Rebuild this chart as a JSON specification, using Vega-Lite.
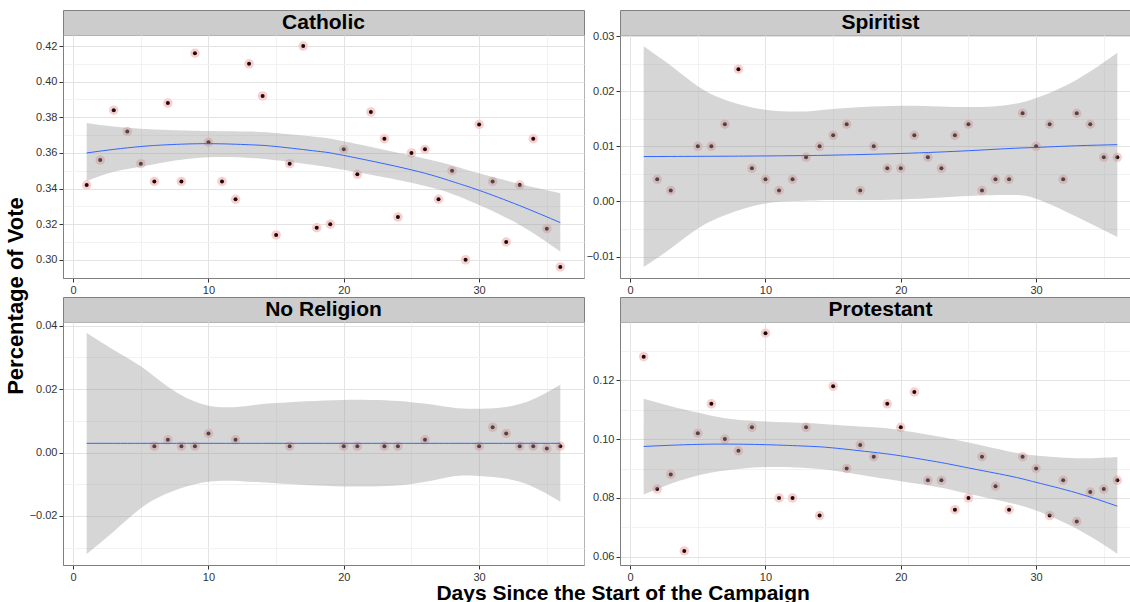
{
  "$schema": "https://vega.github.io/schema/vega-lite/v6.json",
  "padding": {"left": 4, "top": 9, "right": 0, "bottom": 0},
  "background": "white",
  "config": {
    "view": {"stroke": null},
    "font": "Liberation Sans",
    "axis": {"labelFont": "Liberation Sans", "labelFontSize": 11, "labelColor": "#333333", "tickColor": "#333333", "tickSize": 4, "tickWidth": 1, "domainColor": "#7f7f7f", "gridColor": "#e3e3e3", "gridWidth": 1, "labelPadding": 2, "title": null, "labelFlush": false, "labelOverlap": false}
  },
  "title": {"text": "Days Since the Start of the Campaign", "orient": "bottom", "anchor": "middle", "fontSize": 21, "font": "Liberation Sans", "fontWeight": "bold", "color": "black", "offset": 0, "dx": 50},
  "datasets": {
    "pts": [
      {"religion": "Catholic", "day": 1, "vote": 0.342}, {"religion": "Catholic", "day": 2, "vote": 0.356}, {"religion": "Catholic", "day": 3, "vote": 0.384}, {"religion": "Catholic", "day": 4, "vote": 0.372}, {"religion": "Catholic", "day": 5, "vote": 0.354}, {"religion": "Catholic", "day": 6, "vote": 0.344}, {"religion": "Catholic", "day": 7, "vote": 0.388}, {"religion": "Catholic", "day": 8, "vote": 0.344}, {"religion": "Catholic", "day": 9, "vote": 0.416}, {"religion": "Catholic", "day": 10, "vote": 0.366}, {"religion": "Catholic", "day": 11, "vote": 0.344}, {"religion": "Catholic", "day": 12, "vote": 0.334}, {"religion": "Catholic", "day": 13, "vote": 0.410}, {"religion": "Catholic", "day": 14, "vote": 0.392}, {"religion": "Catholic", "day": 15, "vote": 0.314}, {"religion": "Catholic", "day": 16, "vote": 0.354}, {"religion": "Catholic", "day": 17, "vote": 0.420}, {"religion": "Catholic", "day": 18, "vote": 0.318}, {"religion": "Catholic", "day": 19, "vote": 0.320}, {"religion": "Catholic", "day": 20, "vote": 0.362}, {"religion": "Catholic", "day": 21, "vote": 0.348}, {"religion": "Catholic", "day": 22, "vote": 0.383}, {"religion": "Catholic", "day": 23, "vote": 0.368}, {"religion": "Catholic", "day": 24, "vote": 0.324}, {"religion": "Catholic", "day": 25, "vote": 0.360}, {"religion": "Catholic", "day": 26, "vote": 0.362}, {"religion": "Catholic", "day": 27, "vote": 0.334}, {"religion": "Catholic", "day": 28, "vote": 0.350}, {"religion": "Catholic", "day": 29, "vote": 0.300}, {"religion": "Catholic", "day": 30, "vote": 0.376}, {"religion": "Catholic", "day": 31, "vote": 0.344}, {"religion": "Catholic", "day": 32, "vote": 0.310}, {"religion": "Catholic", "day": 33, "vote": 0.342}, {"religion": "Catholic", "day": 34, "vote": 0.368}, {"religion": "Catholic", "day": 35, "vote": 0.3175}, {"religion": "Catholic", "day": 36, "vote": 0.296},
      {"religion": "Spiritist", "day": 2, "vote": 0.004}, {"religion": "Spiritist", "day": 3, "vote": 0.002}, {"religion": "Spiritist", "day": 5, "vote": 0.010}, {"religion": "Spiritist", "day": 6, "vote": 0.010}, {"religion": "Spiritist", "day": 7, "vote": 0.014}, {"religion": "Spiritist", "day": 8, "vote": 0.024}, {"religion": "Spiritist", "day": 9, "vote": 0.006}, {"religion": "Spiritist", "day": 10, "vote": 0.004}, {"religion": "Spiritist", "day": 11, "vote": 0.002}, {"religion": "Spiritist", "day": 12, "vote": 0.004}, {"religion": "Spiritist", "day": 13, "vote": 0.008}, {"religion": "Spiritist", "day": 14, "vote": 0.010}, {"religion": "Spiritist", "day": 15, "vote": 0.012}, {"religion": "Spiritist", "day": 16, "vote": 0.014}, {"religion": "Spiritist", "day": 17, "vote": 0.002}, {"religion": "Spiritist", "day": 18, "vote": 0.010}, {"religion": "Spiritist", "day": 19, "vote": 0.006}, {"religion": "Spiritist", "day": 20, "vote": 0.006}, {"religion": "Spiritist", "day": 21, "vote": 0.012}, {"religion": "Spiritist", "day": 22, "vote": 0.008}, {"religion": "Spiritist", "day": 23, "vote": 0.006}, {"religion": "Spiritist", "day": 24, "vote": 0.012}, {"religion": "Spiritist", "day": 25, "vote": 0.014}, {"religion": "Spiritist", "day": 26, "vote": 0.002}, {"religion": "Spiritist", "day": 27, "vote": 0.004}, {"religion": "Spiritist", "day": 28, "vote": 0.004}, {"religion": "Spiritist", "day": 29, "vote": 0.016}, {"religion": "Spiritist", "day": 30, "vote": 0.010}, {"religion": "Spiritist", "day": 31, "vote": 0.014}, {"religion": "Spiritist", "day": 32, "vote": 0.004}, {"religion": "Spiritist", "day": 33, "vote": 0.016}, {"religion": "Spiritist", "day": 34, "vote": 0.014}, {"religion": "Spiritist", "day": 35, "vote": 0.008}, {"religion": "Spiritist", "day": 36, "vote": 0.008},
      {"religion": "No Religion", "day": 6, "vote": 0.002}, {"religion": "No Religion", "day": 7, "vote": 0.004}, {"religion": "No Religion", "day": 8, "vote": 0.002}, {"religion": "No Religion", "day": 9, "vote": 0.002}, {"religion": "No Religion", "day": 10, "vote": 0.006}, {"religion": "No Religion", "day": 12, "vote": 0.004}, {"religion": "No Religion", "day": 16, "vote": 0.002}, {"religion": "No Religion", "day": 20, "vote": 0.002}, {"religion": "No Religion", "day": 21, "vote": 0.002}, {"religion": "No Religion", "day": 23, "vote": 0.002}, {"religion": "No Religion", "day": 24, "vote": 0.002}, {"religion": "No Religion", "day": 26, "vote": 0.004}, {"religion": "No Religion", "day": 30, "vote": 0.002}, {"religion": "No Religion", "day": 31, "vote": 0.008}, {"religion": "No Religion", "day": 32, "vote": 0.006}, {"religion": "No Religion", "day": 33, "vote": 0.002}, {"religion": "No Religion", "day": 34, "vote": 0.002}, {"religion": "No Religion", "day": 35, "vote": 0.0013}, {"religion": "No Religion", "day": 36, "vote": 0.002},
      {"religion": "Protestant", "day": 1, "vote": 0.128}, {"religion": "Protestant", "day": 2, "vote": 0.083}, {"religion": "Protestant", "day": 3, "vote": 0.088}, {"religion": "Protestant", "day": 4, "vote": 0.062}, {"religion": "Protestant", "day": 5, "vote": 0.102}, {"religion": "Protestant", "day": 6, "vote": 0.112}, {"religion": "Protestant", "day": 7, "vote": 0.100}, {"religion": "Protestant", "day": 8, "vote": 0.096}, {"religion": "Protestant", "day": 9, "vote": 0.104}, {"religion": "Protestant", "day": 10, "vote": 0.136}, {"religion": "Protestant", "day": 11, "vote": 0.080}, {"religion": "Protestant", "day": 12, "vote": 0.080}, {"religion": "Protestant", "day": 13, "vote": 0.104}, {"religion": "Protestant", "day": 14, "vote": 0.074}, {"religion": "Protestant", "day": 15, "vote": 0.118}, {"religion": "Protestant", "day": 16, "vote": 0.090}, {"religion": "Protestant", "day": 17, "vote": 0.098}, {"religion": "Protestant", "day": 18, "vote": 0.094}, {"religion": "Protestant", "day": 19, "vote": 0.112}, {"religion": "Protestant", "day": 20, "vote": 0.104}, {"religion": "Protestant", "day": 21, "vote": 0.116}, {"religion": "Protestant", "day": 22, "vote": 0.086}, {"religion": "Protestant", "day": 23, "vote": 0.086}, {"religion": "Protestant", "day": 24, "vote": 0.076}, {"religion": "Protestant", "day": 25, "vote": 0.080}, {"religion": "Protestant", "day": 26, "vote": 0.094}, {"religion": "Protestant", "day": 27, "vote": 0.084}, {"religion": "Protestant", "day": 28, "vote": 0.076}, {"religion": "Protestant", "day": 29, "vote": 0.094}, {"religion": "Protestant", "day": 30, "vote": 0.090}, {"religion": "Protestant", "day": 31, "vote": 0.074}, {"religion": "Protestant", "day": 32, "vote": 0.086}, {"religion": "Protestant", "day": 33, "vote": 0.072}, {"religion": "Protestant", "day": 34, "vote": 0.082}, {"religion": "Protestant", "day": 35, "vote": 0.083}, {"religion": "Protestant", "day": 36, "vote": 0.086}
    ],
    "fit": [
      {"religion": "Catholic", "day": 1, "fit": 0.3600, "lo": 0.3443, "hi": 0.3768}, {"religion": "Catholic", "day": 3, "fit": 0.3620, "lo": 0.3495, "hi": 0.3748}, {"religion": "Catholic", "day": 5, "fit": 0.3636, "lo": 0.3523, "hi": 0.3736}, {"religion": "Catholic", "day": 7, "fit": 0.3646, "lo": 0.3551, "hi": 0.3729}, {"religion": "Catholic", "day": 10, "fit": 0.3652, "lo": 0.3576, "hi": 0.3723}, {"religion": "Catholic", "day": 13, "fit": 0.3646, "lo": 0.3572, "hi": 0.3720}, {"religion": "Catholic", "day": 15, "fit": 0.3636, "lo": 0.3559, "hi": 0.3712}, {"religion": "Catholic", "day": 18, "fit": 0.3610, "lo": 0.3530, "hi": 0.3690}, {"religion": "Catholic", "day": 20, "fit": 0.3586, "lo": 0.3505, "hi": 0.3666}, {"religion": "Catholic", "day": 25, "fit": 0.3505, "lo": 0.3432, "hi": 0.3585}, {"religion": "Catholic", "day": 28, "fit": 0.3440, "lo": 0.3370, "hi": 0.3530}, {"religion": "Catholic", "day": 30, "fit": 0.3390, "lo": 0.3308, "hi": 0.3486}, {"religion": "Catholic", "day": 33, "fit": 0.3304, "lo": 0.3196, "hi": 0.3426}, {"religion": "Catholic", "day": 36, "fit": 0.3209, "lo": 0.3047, "hi": 0.3374},
      {"religion": "Spiritist", "day": 1, "fit": 0.00814, "lo": -0.0119, "hi": 0.02817}, {"religion": "Spiritist", "day": 3, "fit": 0.00816, "lo": -0.00856, "hi": 0.02465}, {"religion": "Spiritist", "day": 5, "fit": 0.00818, "lo": -0.00492, "hi": 0.02089}, {"religion": "Spiritist", "day": 7, "fit": 0.0082, "lo": -0.00249, "hi": 0.01846}, {"religion": "Spiritist", "day": 10, "fit": 0.00825, "lo": -0.00036, "hi": 0.01664}, {"religion": "Spiritist", "day": 13, "fit": 0.00832, "lo": 0.00012, "hi": 0.01633}, {"religion": "Spiritist", "day": 15, "fit": 0.0084, "lo": 0.00024, "hi": 0.01676}, {"religion": "Spiritist", "day": 20, "fit": 0.0087, "lo": 0.00036, "hi": 0.01737}, {"religion": "Spiritist", "day": 25, "fit": 0.0092, "lo": 0.00097, "hi": 0.01712}, {"religion": "Spiritist", "day": 28, "fit": 0.0096, "lo": 0.00115, "hi": 0.01755}, {"religion": "Spiritist", "day": 30, "fit": 0.0098, "lo": 0.0005, "hi": 0.01876}, {"religion": "Spiritist", "day": 33, "fit": 0.0101, "lo": -0.0028, "hi": 0.0221}, {"religion": "Spiritist", "day": 36, "fit": 0.0103, "lo": -0.00644, "hi": 0.02696},
      {"religion": "No Religion", "day": 1, "fit": 0.0029, "lo": -0.0320, "hi": 0.0377}, {"religion": "No Religion", "day": 3, "fit": 0.0029, "lo": -0.0249, "hi": 0.0324}, {"religion": "No Religion", "day": 5, "fit": 0.0029, "lo": -0.0176, "hi": 0.0272}, {"religion": "No Religion", "day": 7, "fit": 0.0029, "lo": -0.0128, "hi": 0.0208}, {"religion": "No Religion", "day": 10, "fit": 0.0029, "lo": -0.0092, "hi": 0.0148}, {"religion": "No Religion", "day": 13, "fit": 0.0029, "lo": -0.0092, "hi": 0.0148}, {"religion": "No Religion", "day": 15, "fit": 0.0029, "lo": -0.0097, "hi": 0.0156}, {"religion": "No Religion", "day": 20, "fit": 0.0029, "lo": -0.0107, "hi": 0.0166}, {"religion": "No Religion", "day": 25, "fit": 0.0029, "lo": -0.0099, "hi": 0.0159}, {"religion": "No Religion", "day": 28, "fit": 0.0029, "lo": -0.0076, "hi": 0.0142}, {"religion": "No Religion", "day": 30, "fit": 0.0029, "lo": -0.0074, "hi": 0.0138}, {"religion": "No Religion", "day": 33, "fit": 0.0029, "lo": -0.0092, "hi": 0.0153}, {"religion": "No Religion", "day": 36, "fit": 0.0029, "lo": -0.0155, "hi": 0.0214},
      {"religion": "Protestant", "day": 1, "fit": 0.0975, "lo": 0.0812, "hi": 0.1137}, {"religion": "Protestant", "day": 3, "fit": 0.0979, "lo": 0.0848, "hi": 0.1112}, {"religion": "Protestant", "day": 5, "fit": 0.0982, "lo": 0.0876, "hi": 0.1090}, {"religion": "Protestant", "day": 7, "fit": 0.0983, "lo": 0.0893, "hi": 0.1071}, {"religion": "Protestant", "day": 10, "fit": 0.0981, "lo": 0.0905, "hi": 0.1060}, {"religion": "Protestant", "day": 13, "fit": 0.0976, "lo": 0.0902, "hi": 0.1055}, {"religion": "Protestant", "day": 15, "fit": 0.0970, "lo": 0.0893, "hi": 0.1049}, {"religion": "Protestant", "day": 18, "fit": 0.0955, "lo": 0.0871, "hi": 0.1040}, {"religion": "Protestant", "day": 20, "fit": 0.0943, "lo": 0.0857, "hi": 0.1030}, {"religion": "Protestant", "day": 23, "fit": 0.0920, "lo": 0.0835, "hi": 0.1007}, {"religion": "Protestant", "day": 25, "fit": 0.0902, "lo": 0.0814, "hi": 0.0988}, {"religion": "Protestant", "day": 28, "fit": 0.0875, "lo": 0.0784, "hi": 0.0958}, {"religion": "Protestant", "day": 30, "fit": 0.0853, "lo": 0.0757, "hi": 0.0944}, {"religion": "Protestant", "day": 33, "fit": 0.0817, "lo": 0.0695, "hi": 0.0935}, {"religion": "Protestant", "day": 36, "fit": 0.0772, "lo": 0.0610, "hi": 0.0939}
    ]
  },
  "vconcat": [
    {
      "title": {"text": "Percentage of Vote", "orient": "left", "anchor": "middle", "fontSize": 22, "font": "Liberation Sans", "fontWeight": "bold", "color": "black", "offset": 1},
      "columns": 2,
      "bounds": "flush",
      "spacing": {"row": 0, "column": 36},
      "concat": [
        {"width": 521, "height": 25, "view": {"fill": "#cccccc", "stroke": "#808080"}, "data": {"values": [{"label": "Catholic"}]}, "mark": {"type": "text", "fontSize": 21, "fontWeight": "bold", "font": "Liberation Sans", "color": "black", "baseline": "middle"}, "encoding": {"text": {"field": "label", "type": "nominal"}}},
        {"width": 521, "height": 25, "view": {"fill": "#cccccc", "stroke": "#808080"}, "data": {"values": [{"label": "Spiritist"}]}, "mark": {"type": "text", "fontSize": 21, "fontWeight": "bold", "font": "Liberation Sans", "color": "black", "baseline": "middle"}, "encoding": {"text": {"field": "label", "type": "nominal"}}},
        {"width": 521, "height": 243, "view": {"stroke": "#b3b3b3"},
          "resolve": {"axis": {"x": "independent", "y": "independent"}},
          "layer": [
            {"data": {"name": "pts"}, "transform": [{"filter": {"field": "religion", "equal": "Catholic"}}],
              "mark": {"type": "circle", "size": 90, "color": "#f8cfcf", "opacity": 1},
              "encoding": {
                "x": {"field": "day", "type": "quantitative", "scale": {"domain": [-0.75, 37.75], "nice": false, "zero": false}, "axis": {"orient": "bottom", "values": [5, 15, 25, 35], "grid": true, "gridColor": "#f2f2f2", "labels": false, "ticks": false, "domain": false}},
                "y": {"field": "vote", "type": "quantitative", "scale": {"domain": [0.2898, 0.4262], "nice": false, "zero": false}, "axis": {"orient": "left", "values": [0.31, 0.33, 0.35, 0.37, 0.39, 0.41], "grid": true, "gridColor": "#f2f2f2", "labels": false, "ticks": false, "domain": false}}
              }},
            {"data": {"name": "pts"}, "transform": [{"filter": {"field": "religion", "equal": "Catholic"}}],
              "mark": {"type": "circle", "size": 16, "color": "#1f0a0a", "opacity": 1},
              "encoding": {
                "x": {"field": "day", "type": "quantitative", "scale": {"domain": [-0.75, 37.75], "nice": false, "zero": false}, "axis": {"orient": "bottom", "values": [0, 10, 20, 30], "grid": true, "format": "d"}},
                "y": {"field": "vote", "type": "quantitative", "scale": {"domain": [0.2898, 0.4262], "nice": false, "zero": false}, "axis": {"orient": "left", "values": [0.30, 0.32, 0.34, 0.36, 0.38, 0.40, 0.42], "grid": true, "format": ".2f"}}
              }},
            {"data": {"name": "fit"}, "transform": [{"filter": {"field": "religion", "equal": "Catholic"}}],
              "mark": {"type": "area", "color": "#999999", "opacity": 0.4, "interpolate": "natural"},
              "encoding": {
                "x": {"field": "day", "type": "quantitative", "scale": {"domain": [-0.75, 37.75], "nice": false, "zero": false}, "axis": null},
                "y": {"field": "lo", "type": "quantitative", "scale": {"domain": [0.2898, 0.4262], "nice": false, "zero": false}, "axis": null},
                "y2": {"field": "hi"}
              }},
            {"data": {"name": "fit"}, "transform": [{"filter": {"field": "religion", "equal": "Catholic"}}],
              "mark": {"type": "line", "color": "#3366FF", "strokeWidth": 1, "interpolate": "natural"},
              "encoding": {
                "x": {"field": "day", "type": "quantitative", "scale": {"domain": [-0.75, 37.75], "nice": false, "zero": false}, "axis": null},
                "y": {"field": "fit", "type": "quantitative", "scale": {"domain": [0.2898, 0.4262], "nice": false, "zero": false}, "axis": null}
              }}
          ]
        },
        {"width": 521, "height": 243, "view": {"stroke": "#b3b3b3"},
          "resolve": {"axis": {"x": "independent", "y": "independent"}},
          "layer": [
            {"data": {"name": "pts"}, "transform": [{"filter": {"field": "religion", "equal": "Spiritist"}}],
              "mark": {"type": "circle", "size": 90, "color": "#f8cfcf", "opacity": 1},
              "encoding": {
                "x": {"field": "day", "type": "quantitative", "scale": {"domain": [-0.75, 37.75], "nice": false, "zero": false}, "axis": {"orient": "bottom", "values": [5, 15, 25, 35], "grid": true, "gridColor": "#f2f2f2", "labels": false, "ticks": false, "domain": false}},
                "y": {"field": "vote", "type": "quantitative", "scale": {"domain": [-0.0139, 0.0302], "nice": false, "zero": false}, "axis": {"orient": "left", "values": [-0.005, 0.005, 0.015, 0.025], "grid": true, "gridColor": "#f2f2f2", "labels": false, "ticks": false, "domain": false}}
              }},
            {"data": {"name": "pts"}, "transform": [{"filter": {"field": "religion", "equal": "Spiritist"}}],
              "mark": {"type": "circle", "size": 16, "color": "#1f0a0a", "opacity": 1},
              "encoding": {
                "x": {"field": "day", "type": "quantitative", "scale": {"domain": [-0.75, 37.75], "nice": false, "zero": false}, "axis": {"orient": "bottom", "values": [0, 10, 20, 30], "grid": true, "format": "d"}},
                "y": {"field": "vote", "type": "quantitative", "scale": {"domain": [-0.0139, 0.0302], "nice": false, "zero": false}, "axis": {"orient": "left", "values": [-0.01, 0, 0.01, 0.02, 0.03], "grid": true, "format": ".2f"}}
              }},
            {"data": {"name": "fit"}, "transform": [{"filter": {"field": "religion", "equal": "Spiritist"}}],
              "mark": {"type": "area", "color": "#999999", "opacity": 0.4, "interpolate": "natural"},
              "encoding": {
                "x": {"field": "day", "type": "quantitative", "scale": {"domain": [-0.75, 37.75], "nice": false, "zero": false}, "axis": null},
                "y": {"field": "lo", "type": "quantitative", "scale": {"domain": [-0.0139, 0.0302], "nice": false, "zero": false}, "axis": null},
                "y2": {"field": "hi"}
              }},
            {"data": {"name": "fit"}, "transform": [{"filter": {"field": "religion", "equal": "Spiritist"}}],
              "mark": {"type": "line", "color": "#3366FF", "strokeWidth": 1, "interpolate": "natural"},
              "encoding": {
                "x": {"field": "day", "type": "quantitative", "scale": {"domain": [-0.75, 37.75], "nice": false, "zero": false}, "axis": null},
                "y": {"field": "fit", "type": "quantitative", "scale": {"domain": [-0.0139, 0.0302], "nice": false, "zero": false}, "axis": null}
              }}
          ]
        },
        {"width": 521, "height": 19, "data": {"values": [{"t": ""}]}, "mark": {"type": "text"}, "encoding": {"text": {"field": "t", "type": "nominal"}}},
        {"width": 521, "height": 19, "data": {"values": [{"t": ""}]}, "mark": {"type": "text"}, "encoding": {"text": {"field": "t", "type": "nominal"}}},
        {"width": 521, "height": 25, "view": {"fill": "#cccccc", "stroke": "#808080"}, "data": {"values": [{"label": "No Religion"}]}, "mark": {"type": "text", "fontSize": 21, "fontWeight": "bold", "font": "Liberation Sans", "color": "black", "baseline": "middle"}, "encoding": {"text": {"field": "label", "type": "nominal"}}},
        {"width": 521, "height": 25, "view": {"fill": "#cccccc", "stroke": "#808080"}, "data": {"values": [{"label": "Protestant"}]}, "mark": {"type": "text", "fontSize": 21, "fontWeight": "bold", "font": "Liberation Sans", "color": "black", "baseline": "middle"}, "encoding": {"text": {"field": "label", "type": "nominal"}}},
        {"width": 521, "height": 243, "view": {"stroke": "#b3b3b3"},
          "resolve": {"axis": {"x": "independent", "y": "independent"}},
          "layer": [
            {"data": {"name": "pts"}, "transform": [{"filter": {"field": "religion", "equal": "No Religion"}}],
              "mark": {"type": "circle", "size": 90, "color": "#f8cfcf", "opacity": 1},
              "encoding": {
                "x": {"field": "day", "type": "quantitative", "scale": {"domain": [-0.75, 37.75], "nice": false, "zero": false}, "axis": {"orient": "bottom", "values": [5, 15, 25, 35], "grid": true, "gridColor": "#f2f2f2", "labels": false, "ticks": false, "domain": false}},
                "y": {"field": "vote", "type": "quantitative", "scale": {"domain": [-0.0355, 0.0412], "nice": false, "zero": false}, "axis": {"orient": "left", "values": [-0.03, -0.01, 0.01, 0.03], "grid": true, "gridColor": "#f2f2f2", "labels": false, "ticks": false, "domain": false}}
              }},
            {"data": {"name": "pts"}, "transform": [{"filter": {"field": "religion", "equal": "No Religion"}}],
              "mark": {"type": "circle", "size": 16, "color": "#1f0a0a", "opacity": 1},
              "encoding": {
                "x": {"field": "day", "type": "quantitative", "scale": {"domain": [-0.75, 37.75], "nice": false, "zero": false}, "axis": {"orient": "bottom", "values": [0, 10, 20, 30], "grid": true, "format": "d"}},
                "y": {"field": "vote", "type": "quantitative", "scale": {"domain": [-0.0355, 0.0412], "nice": false, "zero": false}, "axis": {"orient": "left", "values": [-0.02, 0, 0.02, 0.04], "grid": true, "format": ".2f"}}
              }},
            {"data": {"name": "fit"}, "transform": [{"filter": {"field": "religion", "equal": "No Religion"}}],
              "mark": {"type": "area", "color": "#999999", "opacity": 0.4, "interpolate": "natural"},
              "encoding": {
                "x": {"field": "day", "type": "quantitative", "scale": {"domain": [-0.75, 37.75], "nice": false, "zero": false}, "axis": null},
                "y": {"field": "lo", "type": "quantitative", "scale": {"domain": [-0.0355, 0.0412], "nice": false, "zero": false}, "axis": null},
                "y2": {"field": "hi"}
              }},
            {"data": {"name": "fit"}, "transform": [{"filter": {"field": "religion", "equal": "No Religion"}}],
              "mark": {"type": "line", "color": "#3366FF", "strokeWidth": 1, "interpolate": "natural"},
              "encoding": {
                "x": {"field": "day", "type": "quantitative", "scale": {"domain": [-0.75, 37.75], "nice": false, "zero": false}, "axis": null},
                "y": {"field": "fit", "type": "quantitative", "scale": {"domain": [-0.0355, 0.0412], "nice": false, "zero": false}, "axis": null}
              }}
          ]
        },
        {"width": 521, "height": 243, "view": {"stroke": "#b3b3b3"},
          "resolve": {"axis": {"x": "independent", "y": "independent"}},
          "layer": [
            {"data": {"name": "pts"}, "transform": [{"filter": {"field": "religion", "equal": "Protestant"}}],
              "mark": {"type": "circle", "size": 90, "color": "#f8cfcf", "opacity": 1},
              "encoding": {
                "x": {"field": "day", "type": "quantitative", "scale": {"domain": [-0.75, 37.75], "nice": false, "zero": false}, "axis": {"orient": "bottom", "values": [5, 15, 25, 35], "grid": true, "gridColor": "#f2f2f2", "labels": false, "ticks": false, "domain": false}},
                "y": {"field": "vote", "type": "quantitative", "scale": {"domain": [0.0572, 0.1398], "nice": false, "zero": false}, "axis": {"orient": "left", "values": [0.07, 0.09, 0.11, 0.13], "grid": true, "gridColor": "#f2f2f2", "labels": false, "ticks": false, "domain": false}}
              }},
            {"data": {"name": "pts"}, "transform": [{"filter": {"field": "religion", "equal": "Protestant"}}],
              "mark": {"type": "circle", "size": 16, "color": "#1f0a0a", "opacity": 1},
              "encoding": {
                "x": {"field": "day", "type": "quantitative", "scale": {"domain": [-0.75, 37.75], "nice": false, "zero": false}, "axis": {"orient": "bottom", "values": [0, 10, 20, 30], "grid": true, "format": "d"}},
                "y": {"field": "vote", "type": "quantitative", "scale": {"domain": [0.0572, 0.1398], "nice": false, "zero": false}, "axis": {"orient": "left", "values": [0.06, 0.08, 0.10, 0.12], "grid": true, "format": ".2f"}}
              }},
            {"data": {"name": "fit"}, "transform": [{"filter": {"field": "religion", "equal": "Protestant"}}],
              "mark": {"type": "area", "color": "#999999", "opacity": 0.4, "interpolate": "natural"},
              "encoding": {
                "x": {"field": "day", "type": "quantitative", "scale": {"domain": [-0.75, 37.75], "nice": false, "zero": false}, "axis": null},
                "y": {"field": "lo", "type": "quantitative", "scale": {"domain": [0.0572, 0.1398], "nice": false, "zero": false}, "axis": null},
                "y2": {"field": "hi"}
              }},
            {"data": {"name": "fit"}, "transform": [{"filter": {"field": "religion", "equal": "Protestant"}}],
              "mark": {"type": "line", "color": "#3366FF", "strokeWidth": 1, "interpolate": "natural"},
              "encoding": {
                "x": {"field": "day", "type": "quantitative", "scale": {"domain": [-0.75, 37.75], "nice": false, "zero": false}, "axis": null},
                "y": {"field": "fit", "type": "quantitative", "scale": {"domain": [0.0572, 0.1398], "nice": false, "zero": false}, "axis": null}
              }}
          ]
        }
      ]
    }
  ]
}
